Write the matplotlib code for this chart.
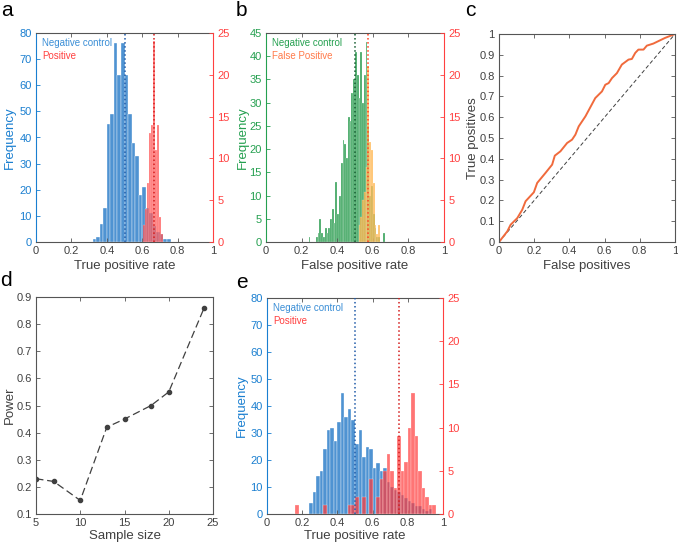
import numpy as np
import matplotlib
matplotlib.use('Agg')
import matplotlib.pyplot as plt

plt.rcParams['font.family'] = ['Liberation Sans', 'DejaVu Sans']

# ---------------- data ----------------
# panel a
a_neg_starts = [0.32, 0.34, 0.36, 0.38, 0.40, 0.42, 0.44, 0.46, 0.48, 0.50, 0.52,
                0.54, 0.56, 0.58, 0.60, 0.62, 0.64, 0.66, 0.68, 0.70, 0.72, 0.74]
a_neg_counts = [1, 2, 7, 13, 45, 49, 76, 64, 76, 64, 49, 38, 33, 18, 21, 13, 11, 6, 4, 3, 1, 1]
a_pos_centers = [0.611, 0.622, 0.634, 0.645, 0.657, 0.668, 0.679, 0.691, 0.702, 0.714]
a_pos_counts = [2, 4, 7, 13, 14, 24, 11, 14, 3, 1]
a_neg_mean = 0.50
a_pos_mean = 0.668

# panel b
b_neg_starts = [0.24, 0.25, 0.26, 0.27, 0.28, 0.29, 0.30, 0.31, 0.32, 0.33, 0.34, 0.35,
                0.36, 0.37, 0.38, 0.39, 0.40, 0.41, 0.42, 0.43, 0.44, 0.45, 0.46, 0.47,
                0.48, 0.49, 0.50, 0.51, 0.52, 0.53, 0.54, 0.55, 0.56, 0.57, 0.58, 0.59,
                0.60, 0.61, 0.62, 0.63, 0.64, 0.65, 0.66]
b_neg_counts = [1, 0, 0, 0, 1, 2, 5, 2, 1, 3, 2, 3,
                5, 7, 4, 13, 6, 10, 17, 22, 21, 18, 27, 26,
                32, 35, 41, 36, 31, 41, 30, 36, 43, 25, 10, 12,
                6, 3, 1, 1, 0, 0, 2]
b_fp_starts = [0.52, 0.53, 0.54, 0.55, 0.56, 0.57, 0.58, 0.59, 0.60, 0.61, 0.62, 0.63]
b_fp_counts = [2, 3, 5, 6, 9, 21, 12, 11, 7, 2, 1, 2]
b_neg_mean = 0.50
b_fp_mean = 0.575

# panel c (ROC)
c_fpr = [0.0, 0.047, 0.066, 0.104, 0.132, 0.151, 0.198, 0.217, 0.264, 0.302, 0.317,
         0.349, 0.387, 0.415, 0.434, 0.453, 0.491, 0.547, 0.585, 0.604, 0.623, 0.642,
         0.670, 0.698, 0.736, 0.755, 0.774, 0.792, 0.821, 0.840, 0.877, 0.943, 1.0]
c_tpr = [0.0, 0.051, 0.083, 0.115, 0.155, 0.196, 0.239, 0.284, 0.332, 0.372, 0.415,
         0.436, 0.476, 0.492, 0.516, 0.556, 0.604, 0.692, 0.724, 0.756, 0.764, 0.788,
         0.812, 0.853, 0.877, 0.880, 0.909, 0.925, 0.925, 0.944, 0.954, 0.981, 1.0]

# panel d
d_sample_size = [5, 7, 10, 13, 15, 18, 20, 24]
d_power = [0.23, 0.22, 0.15, 0.42, 0.45, 0.50, 0.55, 0.86]

# panel e
e_neg_starts = [0.24, 0.26, 0.28, 0.30, 0.32, 0.34, 0.36, 0.38, 0.40, 0.42, 0.44, 0.46,
                0.48, 0.50, 0.52, 0.54, 0.56, 0.58, 0.60, 0.62, 0.64, 0.66, 0.68, 0.70,
                0.72, 0.74, 0.76, 0.78, 0.80, 0.82, 0.84, 0.86, 0.88, 0.90, 0.92]
e_neg_counts = [4, 8, 14, 16, 24, 31, 32, 27, 34, 45, 36, 39,
                35, 26, 31, 21, 25, 24, 17, 19, 16, 17, 12, 10,
                9, 8, 7, 6, 5, 4, 3, 3, 2, 1, 2]
e_pos_starts = [0.16, 0.32, 0.46, 0.48, 0.50, 0.54, 0.58, 0.62, 0.64, 0.66, 0.68, 0.70,
                0.72, 0.74, 0.76, 0.78, 0.80, 0.82, 0.84, 0.86, 0.88, 0.90, 0.92, 0.94]
e_pos_counts = [1, 1, 1, 1, 2, 2, 4, 2, 4, 5, 7, 5,
                3, 9, 5, 6, 10, 14, 9, 5, 3, 2, 1, 1]
e_neg_mean = 0.50
e_pos_mean = 0.75

# ---------------- style ----------------
BLUE_AX = '#1a7fd0'
BLUE_BAR = '#4f93d2'
BLUE_TXT = '#3a8ed6'
RED_AX = '#ff4040'
RED_BAR = '#ff3b3b'
GREEN_AX = '#25a050'
GREEN_BAR = '#45a865'
ORANGE_BAR = '#ffb040'
ORANGE_TXT = '#ff7a4a'
GRAY = '#404040'
SPINE = '#555555'
TICK_FS = 8
LABEL_FS = 9.5

W, H = 678, 544
fig = plt.figure(figsize=(W / 100, H / 100), dpi=100)


def add_ax(l, t, r, b):
    return fig.add_axes([l / W, 1 - b / H, (r - l) / W, (b - t) / H])


def px_label_coords(ax, l, t, r, b, ylab_right_px, xlab_top_px):
    ax.yaxis.set_label_coords((ylab_right_px - l) / (r - l), 0.5)
    ax.xaxis.set_label_coords(0.5, (b - xlab_top_px) / (b - t))


def style_common(ax, xcolor=GRAY):
    ax.tick_params(axis='x', direction='in', top=True, length=3, width=0.6,
                   labelsize=TICK_FS, colors=SPINE, labelcolor=xcolor, pad=3)
    for s in ['top', 'bottom']:
        ax.spines[s].set_color(SPINE)
        ax.spines[s].set_linewidth(0.8)


def hist_panel(ax, lcol, rcol, ylim_l, yticks_l, ylim_r, yticks_r):
    ax2 = ax.twinx()
    ax.set_xlim(0, 1)
    ax.set_xticks([0, 0.2, 0.4, 0.6, 0.8, 1.0])
    ax.set_xticklabels(['0', '0.2', '0.4', '0.6', '0.8', '1'])
    ax.set_ylim(*ylim_l)
    ax.set_yticks(yticks_l)
    ax2.set_ylim(*ylim_r)
    ax2.set_yticks(yticks_r)
    style_common(ax)
    ax.spines['right'].set_visible(False)
    ax.spines['left'].set_color(lcol)
    ax.spines['left'].set_linewidth(0.8)
    ax.tick_params(axis='y', direction='in', length=3, width=0.6, labelsize=TICK_FS,
                   colors=lcol, pad=3)
    for s in ['left', 'top', 'bottom']:
        ax2.spines[s].set_visible(False)
    ax2.spines['right'].set_color(rcol)
    ax2.spines['right'].set_linewidth(0.8)
    ax2.tick_params(axis='y', direction='in', length=3, width=0.6, labelsize=TICK_FS,
                    colors=rcol, pad=3)
    return ax2


# ---------------- panel a ----------------
A = (36, 33, 213, 242)
axa = add_ax(*A)
axa2 = hist_panel(axa, BLUE_AX, RED_AX, (0, 80), range(0, 81, 10), (0, 25), range(0, 26, 5))
axa.bar(a_neg_starts, a_neg_counts, width=0.02, align='edge', color=BLUE_BAR,
        edgecolor='white', linewidth=0.25)
axa2.bar(a_pos_centers, a_pos_counts, width=0.0114, align='center', color=RED_BAR,
         alpha=0.7, edgecolor='white', linewidth=0.2)
axa2.axvline(a_neg_mean, color='#1f5aa8', ls=':', lw=1.1)
axa2.axvline(a_pos_mean, color='#d41c1c', ls=':', lw=1.1)
axa.text(0.035, 0.975, 'Negative control', transform=axa.transAxes, color=BLUE_TXT,
         fontsize=7, va='top', ha='left')
axa.text(0.035, 0.915, 'Positive', transform=axa.transAxes, color=RED_AX,
         fontsize=7, va='top', ha='left')
axa.set_xlabel('True positive rate', fontsize=LABEL_FS, color=GRAY)
axa.set_ylabel('Frequency', fontsize=LABEL_FS, color=BLUE_AX)
px_label_coords(axa, *A, ylab_right_px=16, xlab_top_px=260)

# ---------------- panel b ----------------
B = (266, 33, 444, 242)
axb = add_ax(*B)
axb2 = hist_panel(axb, GREEN_AX, RED_AX, (0, 45), range(0, 46, 5), (0, 25), range(0, 26, 5))
axb.bar(b_neg_starts, b_neg_counts, width=0.01, align='edge', color=GREEN_BAR,
        edgecolor='white', linewidth=0.15)
axb2.bar(b_fp_starts, b_fp_counts, width=0.01, align='edge', color=ORANGE_BAR,
         alpha=0.75, edgecolor='white', linewidth=0.15)
axb2.axvline(b_neg_mean, color='#155c30', ls=':', lw=1.1)
axb2.axvline(b_fp_mean, color='#ff4020', ls=':', lw=1.1)
axb.text(0.035, 0.975, 'Negative control', transform=axb.transAxes, color=GREEN_AX,
         fontsize=7, va='top', ha='left')
axb.text(0.035, 0.915, 'False Positive', transform=axb.transAxes, color=ORANGE_TXT,
         fontsize=7, va='top', ha='left')
axb.set_xlabel('False positive rate', fontsize=LABEL_FS, color=GRAY)
axb.set_ylabel('Frequency', fontsize=LABEL_FS, color=GREEN_AX)
px_label_coords(axb, *B, ylab_right_px=249, xlab_top_px=260)

# ---------------- panel c ----------------
C = (499, 34, 675, 242)
axc = add_ax(*C)
axc.plot([0, 1], [0, 1], ls=(0, (4, 2.5)), color=GRAY, lw=0.7)
axc.plot(c_fpr, c_tpr, color='#f06a3c', lw=1.4)
axc.set_xlim(0, 1)
axc.set_ylim(0, 1)
axc.set_xticks([0, 0.2, 0.4, 0.6, 0.8, 1.0])
axc.set_xticklabels(['0', '0.2', '0.4', '0.6', '0.8', '1'])
axc.set_yticks(np.arange(0, 1.01, 0.1))
axc.set_yticklabels(['0', '0.1', '0.2', '0.3', '0.4', '0.5', '0.6', '0.7', '0.8', '0.9', '1'])
style_common(axc)
axc.tick_params(axis='y', direction='in', right=True, length=3, width=0.6, labelsize=TICK_FS,
                colors=SPINE, labelcolor=GRAY, pad=3)
for s in ['left', 'right']:
    axc.spines[s].set_color(SPINE)
    axc.spines[s].set_linewidth(0.8)
axc.set_xlabel('False positives', fontsize=LABEL_FS, color=GRAY)
axc.set_ylabel('True positives', fontsize=LABEL_FS, color=GRAY)
px_label_coords(axc, *C, ylab_right_px=479, xlab_top_px=260)

# ---------------- panel d ----------------
D = (36, 297, 213, 514)
axd = add_ax(*D)
axd.plot(d_sample_size, d_power, ls=(0, (6, 3)), color=GRAY, lw=0.9,
         marker='o', markersize=3, markerfacecolor=GRAY, markeredgecolor=GRAY)
axd.set_xlim(5, 25)
axd.set_ylim(0.1, 0.9)
axd.set_xticks([5, 10, 15, 20, 25])
axd.set_yticks(np.arange(0.1, 0.91, 0.1))
axd.set_yticklabels(['0.1', '0.2', '0.3', '0.4', '0.5', '0.6', '0.7', '0.8', '0.9'])
style_common(axd)
axd.tick_params(axis='y', direction='in', right=True, length=3, width=0.6, labelsize=TICK_FS,
                colors=SPINE, labelcolor=GRAY, pad=3)
for s in ['left', 'right']:
    axd.spines[s].set_color(SPINE)
    axd.spines[s].set_linewidth(0.8)
axd.set_xlabel('Sample size', fontsize=LABEL_FS, color=GRAY)
axd.set_ylabel('Power', fontsize=LABEL_FS, color=GRAY)
px_label_coords(axd, *D, ylab_right_px=16, xlab_top_px=530)

# ---------------- panel e ----------------
E = (267, 298, 443, 514)
axe = add_ax(*E)
axe2 = hist_panel(axe, BLUE_AX, RED_AX, (0, 80), range(0, 81, 10), (0, 25), range(0, 26, 5))
axe.bar(e_neg_starts, e_neg_counts, width=0.02, align='edge', color=BLUE_BAR,
        edgecolor='white', linewidth=0.25)
axe2.bar(e_pos_starts, e_pos_counts, width=0.02, align='edge', color=RED_BAR,
         alpha=0.7, edgecolor='white', linewidth=0.25)
axe2.axvline(e_neg_mean, color='#1f5aa8', ls=':', lw=1.1)
axe2.axvline(e_pos_mean, color='#d41c1c', ls=':', lw=1.1)
axe.text(0.035, 0.975, 'Negative control', transform=axe.transAxes, color=BLUE_TXT,
         fontsize=7, va='top', ha='left')
axe.text(0.035, 0.915, 'Positive', transform=axe.transAxes, color=RED_AX,
         fontsize=7, va='top', ha='left')
axe.set_xlabel('True positive rate', fontsize=LABEL_FS, color=GRAY)
axe.set_ylabel('Frequency', fontsize=LABEL_FS, color=BLUE_AX)
px_label_coords(axe, *E, ylab_right_px=248, xlab_top_px=530)

# ---------------- panel letters ----------------
for letter, x, y in [('a', 1, 1), ('b', 236, 1), ('c', 465, 1), ('d', 0, 271), ('e', 236, 273)]:
    fig.text(x / W, 1 - y / H, letter, fontsize=15, va='top', ha='left', color='black')

fig.savefig('out.png', dpi=100)
